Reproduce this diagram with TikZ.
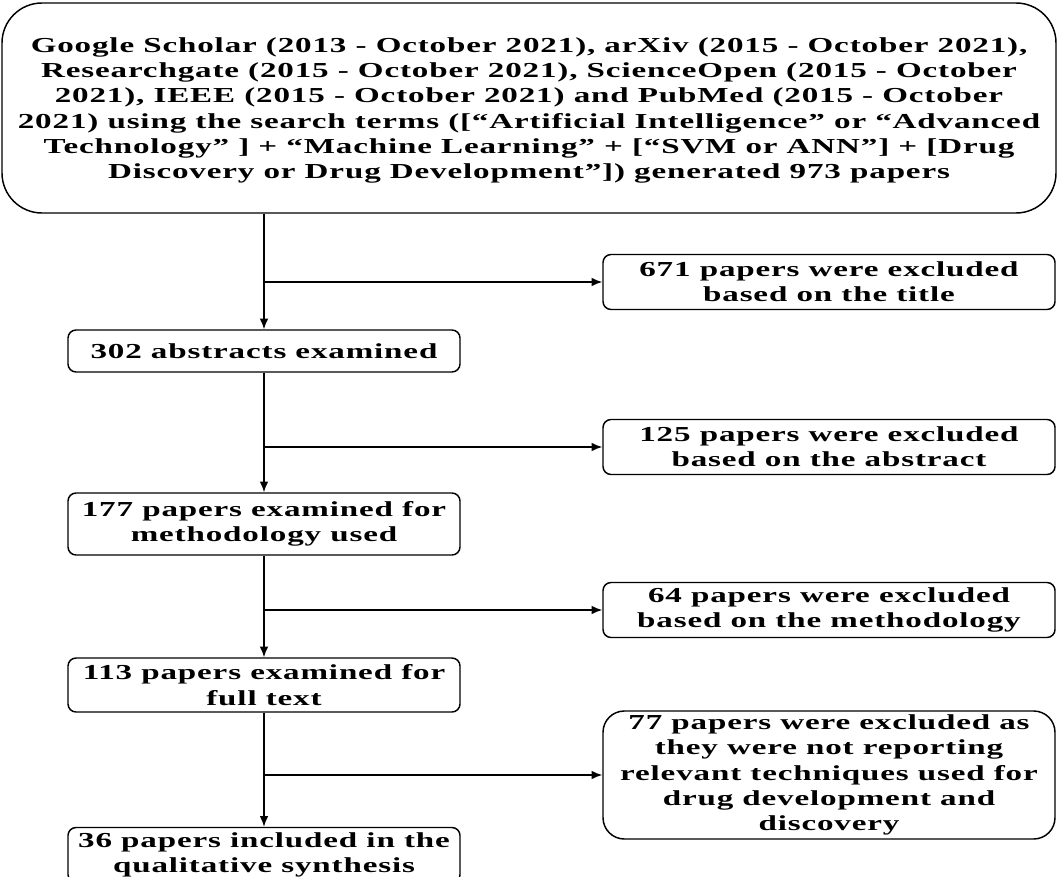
\documentclass[tikz,border=0pt]{standalone}
\usepackage{fontspec}
\setmainfont{Liberation Serif}
\newfontfamily\widefont[FakeStretch=1.55,LetterSpace=4]{Liberation Serif}
\usetikzlibrary{arrows.meta}
\tikzset{
  box/.style={draw, line width=1.1pt, rounded corners=6pt, align=center, inner sep=0pt,
    minimum width=294pt, font=\widefont\bfseries\fontsize{16}{19}\selectfont},
  exbox/.style={box, minimum width=339pt, minimum height=41.25pt},
  arr/.style={-{Latex[length=8pt,width=6.5pt]}, line width=1.1pt}
}
\begin{document}
\begin{tikzpicture}[x=0.75pt,y=-0.75pt]
\useasboundingbox (0,0) rectangle (1057,877);
\node[box, rounded corners=30pt, minimum width=790.5pt, minimum height=157.5pt, text depth=0pt] (search) at (529,108)
  {Google Scholar (2013 - October 2021), arXiv (2015 - October 2021),\\
   Researchgate (2015 - October 2021), ScienceOpen (2015 - October\\
   2021), IEEE (2015 - October 2021) and PubMed (2015 - October\\
   2021) using the search terms ([“Artificial Intelligence” or “Advanced\\
   Technology” ] + “Machine Learning” + [“SVM or ANN”] + [Drug\\
   Discovery or Drug Development”]) generated 973 papers};
\node[box, minimum height=31.5pt] (abstracts) at (264,351) {302 abstracts examined};
\node[box, minimum height=46.5pt] (method) at (264,524) {177 papers examined for\\methodology used};
\node[box, minimum height=40.5pt] (fulltext) at (264,685) {113 papers examined for\\full text};
\node[box, minimum height=41.25pt] (included) at (264,855) {36 papers included in the\\qualitative synthesis};
\node[exbox] (extitle) at (829,282) {671 papers were excluded\\based on the title};
\node[exbox] (exabstract) at (829,447) {125 papers were excluded\\based on the abstract};
\node[exbox] (exmethod) at (829,610) {64 papers were excluded\\based on the methodology};
\node[exbox, minimum height=96pt, rounded corners=16pt] (exfull) at (829,775)
  {77 papers were excluded as\\they were not reporting\\relevant techniques used for\\drug development and\\discovery};

\draw[arr] (abstracts |- search.south) -- (abstracts);
\draw[arr] (abstracts) -- (method);
\draw[arr] (method) -- (fulltext);
\draw[arr] (fulltext) -- (included);
\draw[arr] (abstracts |- extitle) -- (extitle);
\draw[arr] (abstracts |- exabstract) -- (exabstract);
\draw[arr] (abstracts |- exmethod) -- (exmethod);
\draw[arr] (abstracts |- exfull) -- (exfull);
\end{tikzpicture}
\end{document}
